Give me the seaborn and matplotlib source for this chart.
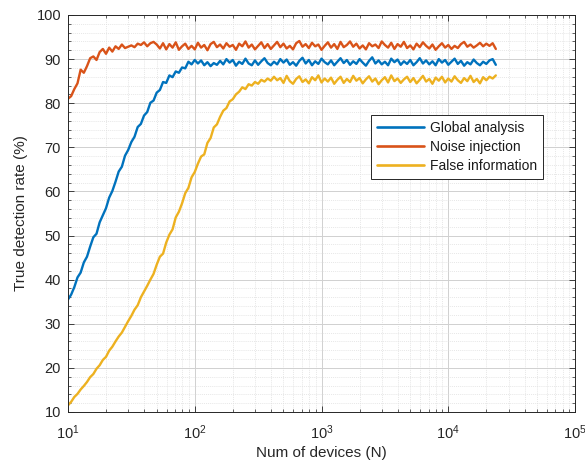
import numpy as np
import pandas as pd
import matplotlib
matplotlib.use("Agg")
import matplotlib.pyplot as plt
from matplotlib.ticker import MultipleLocator, LogLocator, NullFormatter
import seaborn as sns

# Number of devices: log-spaced sampling grid from 10 to ~2.4e4
log_n_start, log_n_end, n_points = 1.0, 4.375, 136

# True detection rate (%) for each defence scheme
global_analysis = [
    35.5, 36.6, 38.3, 40.5, 41.6, 43.9, 45.2, 47.5, 49.6, 50.4,
    53.0, 54.6, 56.2, 58.6, 60.1, 62.2, 64.5, 65.6, 68.1, 69.4,
    71.2, 72.4, 74.6, 75.3, 77.2, 78.0, 80.1, 80.6, 82.4, 83.0,
    84.8, 84.6, 86.3, 85.9, 87.2, 86.9, 88.1, 87.9, 89.4, 88.8,
    89.8, 89.0, 89.7, 88.6, 89.3, 88.4, 89.1, 88.7, 89.6, 88.8,
    90.0, 89.2, 89.8, 88.5, 89.4, 88.9, 90.1, 89.0, 88.6, 89.7,
    88.7, 89.5, 90.2, 89.1, 88.6, 89.4, 88.8, 90.0, 89.2, 89.9,
    88.7, 89.3, 88.5, 89.6, 90.3, 89.0, 89.8, 88.6, 89.5, 88.9,
    90.1, 89.3, 88.8, 89.7, 88.6, 89.4, 90.2, 89.1, 89.8, 88.7,
    89.5, 88.9, 90.0, 89.2, 88.5, 89.6, 90.4, 89.0, 89.7, 88.8,
    89.4, 88.6, 90.1, 89.3, 89.9, 88.7, 89.5, 88.9, 89.8, 88.6,
    89.3, 90.2, 89.0, 89.7, 88.8, 89.5, 88.6, 90.0, 89.2, 89.8,
    88.7, 89.4, 90.1, 88.9, 89.6, 88.5, 89.3, 88.8, 89.9, 89.1,
    88.6, 89.4, 88.9, 89.7, 90.0, 88.7,
]

noise_injection = [
    81.0, 81.6, 83.2, 84.5, 87.6, 86.9, 88.4, 90.2, 90.6, 89.8,
    91.6, 92.3, 91.2, 92.6, 91.7, 92.9, 92.3, 93.3, 92.5, 92.8,
    93.1, 92.7, 93.5, 93.2, 93.8, 92.9, 93.6, 93.9, 93.3, 92.4,
    93.6, 92.2, 93.4, 92.6, 93.8, 92.1, 92.9, 93.5, 92.3, 93.0,
    92.2, 93.7, 92.6, 93.2, 92.0, 93.4, 93.9, 92.7, 93.3, 92.4,
    93.6, 92.8, 93.2, 92.1, 93.5, 92.9, 94.0, 92.6, 93.3, 92.2,
    93.0, 93.8, 92.5, 93.4, 92.3, 93.1, 93.9, 92.7, 93.5, 92.4,
    93.0, 92.2, 93.6, 94.1, 92.8, 93.4, 92.5, 93.7, 92.9, 93.3,
    92.1, 93.0, 93.8, 92.6, 93.4, 92.3, 93.9, 92.7, 93.2, 94.0,
    92.8, 93.5, 92.4, 93.1, 92.2, 93.6, 92.9, 93.3, 92.5, 94.0,
    93.2, 92.6, 93.7, 92.3, 93.4, 92.8, 93.9, 92.5, 93.1, 92.2,
    93.5, 92.7, 93.8, 93.0, 92.4, 93.3, 92.1, 92.9, 93.6, 92.6,
    93.2, 92.3, 93.0, 92.5, 93.4, 93.9, 92.8, 93.3, 92.6, 93.1,
    93.7, 92.9, 93.5, 93.0, 93.6, 92.3,
]

false_information = [
    11.5, 12.3, 13.4, 14.1, 15.1, 15.9, 16.8, 17.9, 18.6, 19.8,
    20.6, 21.8, 22.5, 23.9, 24.8, 26.0, 27.1, 28.0, 29.3, 30.6,
    31.8, 33.2, 34.2, 36.0, 37.3, 38.6, 40.0, 41.3, 43.4, 45.2,
    45.9, 48.4, 50.2, 51.4, 54.1, 55.4, 57.3, 59.6, 60.8, 63.2,
    64.4, 66.3, 67.9, 68.4, 71.0, 72.1, 74.5, 75.2, 76.9, 78.3,
    78.9, 80.4, 80.9, 82.0, 82.6, 83.6, 83.2, 84.3, 84.0, 84.8,
    84.4, 85.3, 84.9, 85.6, 85.1, 86.0, 85.2, 85.7, 84.6, 86.2,
    85.0, 84.4, 85.5, 86.1, 84.8, 85.4, 84.5, 85.9, 85.2, 86.3,
    84.7, 85.6, 84.9, 85.8, 84.4, 85.3, 86.0, 84.6, 85.5, 84.8,
    86.2, 85.1, 85.7, 84.5, 85.4, 86.1, 84.9, 85.6, 84.3, 85.2,
    85.9, 84.7, 86.3, 85.0, 85.6, 84.6, 85.4, 86.0, 84.8, 85.7,
    84.5, 85.3, 86.2, 84.9, 85.5, 84.4, 85.8, 85.1, 86.0, 84.7,
    85.6, 84.9, 86.1, 85.2, 84.6, 85.7, 85.0, 86.2, 84.8, 85.5,
    84.5, 85.9, 85.2, 86.0, 85.6, 86.3,
]

series_names = ["Global analysis", "Noise injection", "False information"]
series_colors = ["#0072BD", "#D95319", "#EDB120"]

x_label = "Num of devices (N)"
y_label = "True detection rate (%)"

num_devices = np.logspace(log_n_start, log_n_end, n_points)

frames = []
for name, values in zip(series_names,
                        [global_analysis, noise_injection, false_information]):
    frames.append(pd.DataFrame({"N": num_devices, "rate": values, "method": name}))
df = pd.concat(frames, ignore_index=True)

sns.set_style("ticks")
plt.rcParams["font.family"] = ["Liberation Sans", "DejaVu Sans"]
plt.rcParams["mathtext.fontset"] = "custom"
plt.rcParams["mathtext.rm"] = "Liberation Sans"
plt.rcParams["mathtext.it"] = "Liberation Sans:italic"
plt.rcParams["mathtext.bf"] = "Liberation Sans:bold"

text_color = "#262626"

fig = plt.figure(figsize=(5.85, 4.68), dpi=100)
ax = fig.add_axes([0.1162, 0.1197, 0.8668, 0.8483])

sns.lineplot(data=df, x="N", y="rate", hue="method", hue_order=series_names,
             palette=series_colors, linewidth=1.7, ax=ax, legend=True)

ax.set_xscale("log")
ax.set_xlim(10, 1e5)
ax.set_ylim(10, 100)
ax.yaxis.set_major_locator(MultipleLocator(10))
ax.yaxis.set_minor_locator(MultipleLocator(2))
ax.xaxis.set_major_locator(LogLocator(base=10, numticks=10))
ax.xaxis.set_minor_locator(LogLocator(base=10, subs=np.arange(2, 10), numticks=20))
ax.xaxis.set_minor_formatter(NullFormatter())

ax.set_axisbelow(True)
ax.grid(which="major", color="#d0d0d0", linewidth=0.7)
ax.grid(which="minor", color="#dedede", linewidth=0.5, linestyle=(0, (1.5, 1.5)))

ax.tick_params(which="both", direction="in", top=True, right=True,
               colors=text_color, labelsize=10.5, labelcolor=text_color)
ax.tick_params(which="major", length=4, width=0.6)
ax.tick_params(which="minor", length=2.2, width=0.5)
ax.tick_params(axis="x", which="major", pad=8)
ax.tick_params(axis="y", which="major", pad=5)
for s in ax.spines.values():
    s.set_color(text_color)
    s.set_linewidth(0.7)

ax.set_xlabel(x_label, fontsize=11, color=text_color, labelpad=3)
ax.set_ylabel(y_label, fontsize=11, color=text_color, labelpad=6)

handles, labels = ax.get_legend_handles_labels()
leg = ax.legend(handles, labels, loc="upper right", bbox_to_anchor=(0.937, 0.748),
                fontsize=10, frameon=True, fancybox=False, framealpha=1,
                edgecolor=text_color, handlelength=3.4, handletextpad=0.45,
                labelspacing=0.38, borderpad=0.4, borderaxespad=0.0)
leg.get_frame().set_linewidth(0.7)
for line in leg.get_lines():
    line.set_linewidth(1.9)
for t in leg.get_texts():
    t.set_color("#1a1a1a")

fig.savefig("out.png", dpi=100)
